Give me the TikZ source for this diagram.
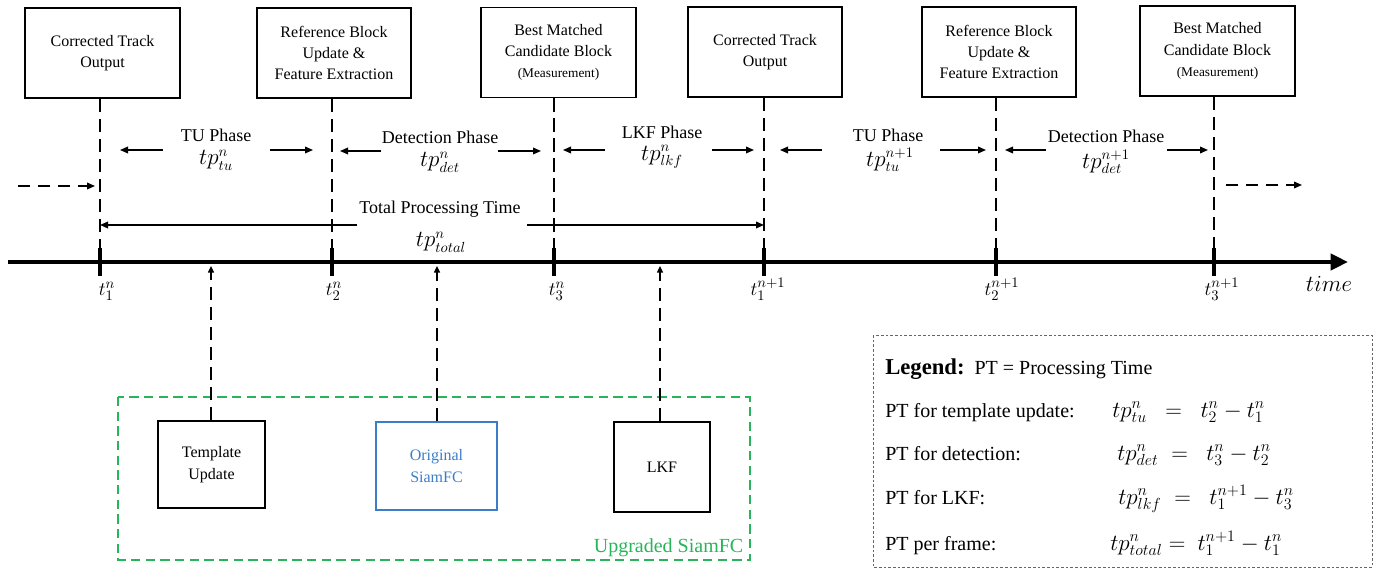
\documentclass[tikz,border=0pt]{standalone}
\usepackage{fontspec}
\setmainfont{LiberationSerif}[Extension=.ttf,UprightFont=*-Regular,BoldFont=*-Bold,ItalicFont=*-Italic,BoldItalicFont=*-BoldItalic]
\usetikzlibrary{arrows.meta,calc}
\definecolor{gbox}{RGB}{40,180,90}
\definecolor{bbox}{RGB}{60,125,200}
\begin{document}
\begin{tikzpicture}[x=0.75pt,y=-0.75pt,
  topbox/.style={draw,line width=1.4pt,minimum width=116pt,minimum height=67.5pt,align=center,inner sep=0pt,font=\fontsize{12}{16}\selectfont},
  lowbox/.style={draw,line width=1.4pt,align=center,inner sep=0pt,font=\fontsize{12}{17}\selectfont},
  vdash/.style={line width=1pt,dash pattern=on 10pt off 5pt},
  phase/.style={align=center,inner sep=0.5pt,font=\fontsize{13.5}{17}\selectfont},
  pm/.style={inner sep=0.5pt,font=\fontsize{16}{18}\selectfont},
  parr/.style={line width=1pt,-{Triangle[length=6pt,width=5pt]}},
  tlab/.style={inner sep=1pt,font=\fontsize{15.5}{17}\selectfont},
  leg/.style={anchor=base west,font=\fontsize{15}{18}\selectfont,inner sep=0pt},
  legm/.style={anchor=base west,font=\fontsize{17}{18}\selectfont,inner sep=0pt},
]
\useasboundingbox (0,0) rectangle (1375,570);

% ticks
\coordinate (t1) at (100,262);
\coordinate (t2) at (332,262);
\coordinate (t3) at (554,262);
\coordinate (t4) at (764,262);
\coordinate (t5) at (996,262);
\coordinate (t6) at (1214,262);
\coordinate (tlS) at (8,262);
\coordinate (tlE) at (1348,262);

% top boxes
\node[topbox] (b1) at (102.5,53) {Corrected Track\\Output};
\node[topbox] (b2) at (334,53) {Reference Block\\Update \&\\Feature Extraction};
\node[topbox] (b3) at (558.5,52.5) {Best Matched\\Candidate Block\\{\fontsize{10}{13}\selectfont (Measurement)}};
\node[topbox] (b4) at (765,52) {Corrected Track\\Output};
\node[topbox] (b5) at (999,52) {Reference Block\\Update \&\\Feature Extraction};
\node[topbox] (b6) at (1217.5,51) {Best Matched\\Candidate Block\\{\fontsize{10}{13}\selectfont (Measurement)}};

% dashed verticals
\foreach \b/\t in {b1/t1,b2/t2,b3/t3,b4/t4,b5/t5,b6/t6}
  \draw[vdash] (\b.south -| \t) -- (\t);

% timeline
\draw[line width=3pt,-{Triangle[length=13pt,width=12pt]}] (tlS) -- (tlE);
\foreach \t in {t1,t2,t3,t4,t5,t6}
  \draw[line width=3pt] ($(\t)+(0,-14)$) -- ($(\t)+(0,14)$);

% tick labels
\node[tlab] (l1) at (107,291) {$t_1^n$};
\node[tlab] (l2) at (334,291) {$t_2^n$};
\node[tlab] (l3) at (557,291) {$t_3^n$};
\node[tlab] (l4) at (768,289) {$t_1^{n+1}$};
\node[tlab] (l5) at (1002,289) {$t_2^{n+1}$};
\node[tlab] (l6) at (1222,289) {$t_3^{n+1}$};
\node[font=\fontsize{19}{22}\selectfont] (tm) at (1329,284) {$time$};

% phases
\node[phase] (p1) at (216,135) {TU Phase};
\node[phase] (p2) at (440,137) {Detection Phase};
\node[phase] (p3) at (662,132) {LKF Phase};
\node[phase] (p4) at (888,135) {TU Phase};
\node[phase] (p5) at (1106,136) {Detection Phase};
\node[pm] (m1) at (216,160) {$tp^n_{tu}$};
\node[pm] (m2) at (440,162) {$tp^n_{det}$};
\node[pm] (m3) at (662,157) {$tp^n_{lkf}$};
\node[pm] (m4) at (890,160) {$tp^{n+1}_{tu}$};
\node[pm] (m5) at (1106,162) {$tp^{n+1}_{det}$};

\draw[parr] (163,150) -- (120,150);
\draw[parr] (270,150) -- (313,150);
\draw[parr] (381,151) -- (340,151);
\draw[parr] (498,151) -- (541,151);
\draw[parr] (605,150) -- (563,150);
\draw[parr] (712,150) -- (754,150);
\draw[parr] (822,150) -- (780,150);
\draw[parr] (940,150) -- (986,150);
\draw[parr] (1046,150) -- (1005,150);
\draw[parr] (1167,150) -- (1208,150);

% side dashed arrows
\coordinate (inS) at (18,186);
\coordinate (inE) at (95,186);
\coordinate (outS) at (1226,185);
\coordinate (outE) at (1302,185);
\draw[line width=1pt,dash pattern=on 9pt off 6pt,-{Triangle[length=6pt,width=5pt]}] (inS) -- (inE);
\draw[line width=1pt,dash pattern=on 9pt off 6pt,-{Triangle[length=6pt,width=5pt]}] (outS) -- (outE);

% total processing time
\node[inner sep=0.5pt,font=\fontsize{13.5}{16}\selectfont] (tot) at (440,209) {Total Processing Time};
\node[pm] (totm) at (441,242) {$tp^n_{total}$};
\coordinate (ta) at (357,225);
\coordinate (tb) at (527,225);
\draw[parr] (ta) -- (ta -| t1);
\draw[parr] (tb) -- (tb -| t4);

% green box
\draw[gbox,line width=1.4pt,dash pattern=on 7pt off 4pt] (118,397) rectangle (750,560);
\node[gbox,font=\fontsize{15}{18}\selectfont,anchor=east] (ug) at (748,548) {Upgraded SiamFC};

% lower boxes
\node[lowbox,minimum width=80pt,minimum height=65pt] (tu) at (211.5,464.5) {Template\\Update};
\node[lowbox,draw=bbox,text=bbox,minimum width=91pt,minimum height=66pt] (os) at (436.5,466) {Original\\SiamFC};
\node[lowbox,minimum width=72pt,minimum height=67.5pt] (lk) at (662,467) {LKF};

\foreach \n/\x in {tu/211,os/437,lk/660}
  \draw[line width=1pt,dash pattern=on 10pt off 5pt,-{Triangle[length=5pt,width=4.5pt]}] (\n.north -| \x,0) -- (\x,266);

% legend
\draw[gray!80!black,line width=0.7pt,dash pattern=on 2pt off 1.5pt] (873,335) rectangle (1372,567);
\node[leg] (lg) at (885,375) {{\fontsize{17}{20}\selectfont\bfseries Legend:}\ \ PT = Processing Time};
\node[leg] (r1) at (885,417) {PT for template update:};
\node[leg] (r2) at (885,460) {PT for detection:};
\node[leg] (r3) at (885,504) {PT for LKF:};
\node[leg] (r4) at (885,550) {PT per frame:};
\node[legm] (e1) at (1112,417) {$tp^n_{tu}\ \;=\;\ t^n_2 - t^n_1$};
\node[legm] (e2) at (1117,460) {$tp^n_{det}\;=\;\ t^n_3 - t^n_2$};
\node[legm] (e3) at (1118,504) {$tp^n_{lkf}\;=\;\ t^{n+1}_1 - t^n_3$};
\node[legm] (e4) at (1110,550) {$tp^n_{total}=\ t^{n+1}_1 - t^n_1$};
\end{tikzpicture}
\end{document}
